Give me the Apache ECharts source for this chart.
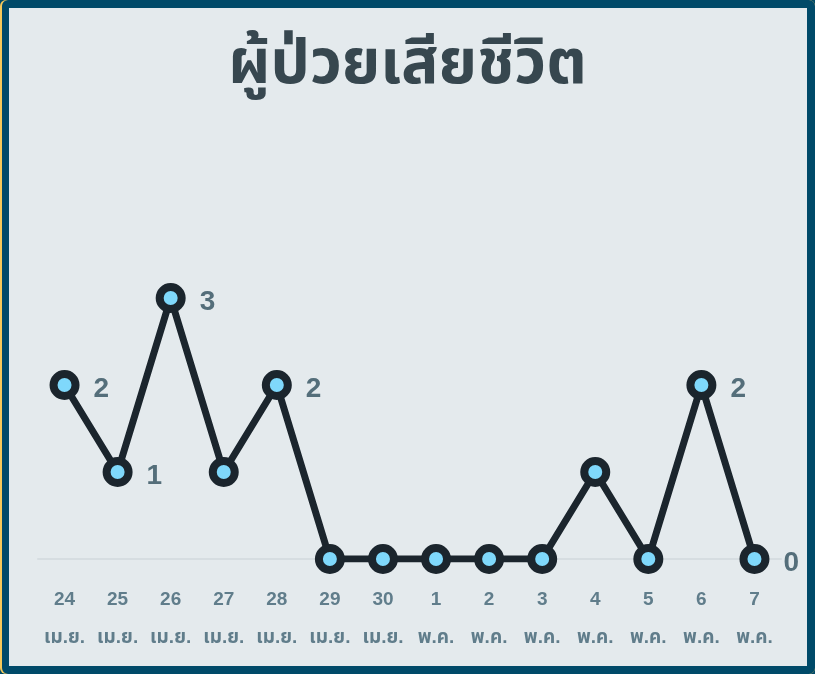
<!DOCTYPE html>
<html><head><meta charset="utf-8">
<script src="https://cdn.jsdelivr.net/npm/echarts@6/dist/echarts.min.js"></script>
<style>
html,body{margin:0;padding:0;background:#004a69;}
#frame{position:absolute;left:0;top:0;width:815px;height:674px;box-sizing:border-box;background:#f5c95a;border-radius:6px;}
#inner{position:absolute;left:2px;top:0;width:813px;height:674px;box-sizing:border-box;background:#e4eaed;border:8px solid #004a69;border-left-width:7px;border-radius:6px;}
#chart{position:absolute;left:0;top:0;width:815px;height:674px;}
</style></head>
<body>
<div id="frame"></div><div id="inner"></div>
<div id="chart"></div>
<script>
const title = "ผู้ป่วยเสียชีวิต";
const days = ["24","25","26","27","28","29","30","1","2","3","4","5","6","7"];
const months = ["เม.ย.","เม.ย.","เม.ย.","เม.ย.","เม.ย.","เม.ย.","เม.ย.","พ.ค.","พ.ค.","พ.ค.","พ.ค.","พ.ค.","พ.ค.","พ.ค."];
const deaths = [2,1,3,1,2,0,0,0,0,0,1,0,2,0];
const labelled = [true,true,true,false,true,false,false,false,false,false,false,false,true,true];

const chart = echarts.init(document.getElementById('chart'), null, {renderer:'canvas'});
const font = "'Liberation Sans','Noto Sans Thai','Noto Sans',sans-serif";
chart.setOption({
  backgroundColor: 'transparent',
  animation: false,
  title: {
    text: title, left: 'center', top: 30,
    textStyle: {fontSize: 62, fontWeight: 'bold', color: '#37474f', fontFamily: font}
  },
  grid: {left: 38, right: 34, top: 298, bottom: 115},
  xAxis: {
    type: 'category',
    data: days.map((d,i)=>d+'\n'+months[i]),
    boundaryGap: true,
    axisLine: {show: true, lineStyle: {color: '#d6dde1', width: 2}},
    axisTick: {show: false},
    axisLabel: {
      margin: 22, color: '#607d8b', fontWeight: 'bold', fontSize: 19, lineHeight: 38,
      fontFamily: font, interval: 0
    }
  },
  yAxis: {type: 'value', min: 0, max: 3, show: false, splitLine: {show: false}},
  series: [{
    type: 'line',
    data: deaths.map((v,i)=>({value: v, label: {show: labelled[i]}})),
    lineStyle: {color: '#1b252d', width: 7},
    symbol: 'circle', symbolSize: 22,
    itemStyle: {color: '#7fd8fb', borderColor: '#1b252d', borderWidth: 8},
    label: {
      position: 'right', distance: 14, fontSize: 28, fontWeight: 'bold',
      color: '#546e7a', fontFamily: font, offset: [0, 4]
    }
  }]
});
</script>
</body></html>
